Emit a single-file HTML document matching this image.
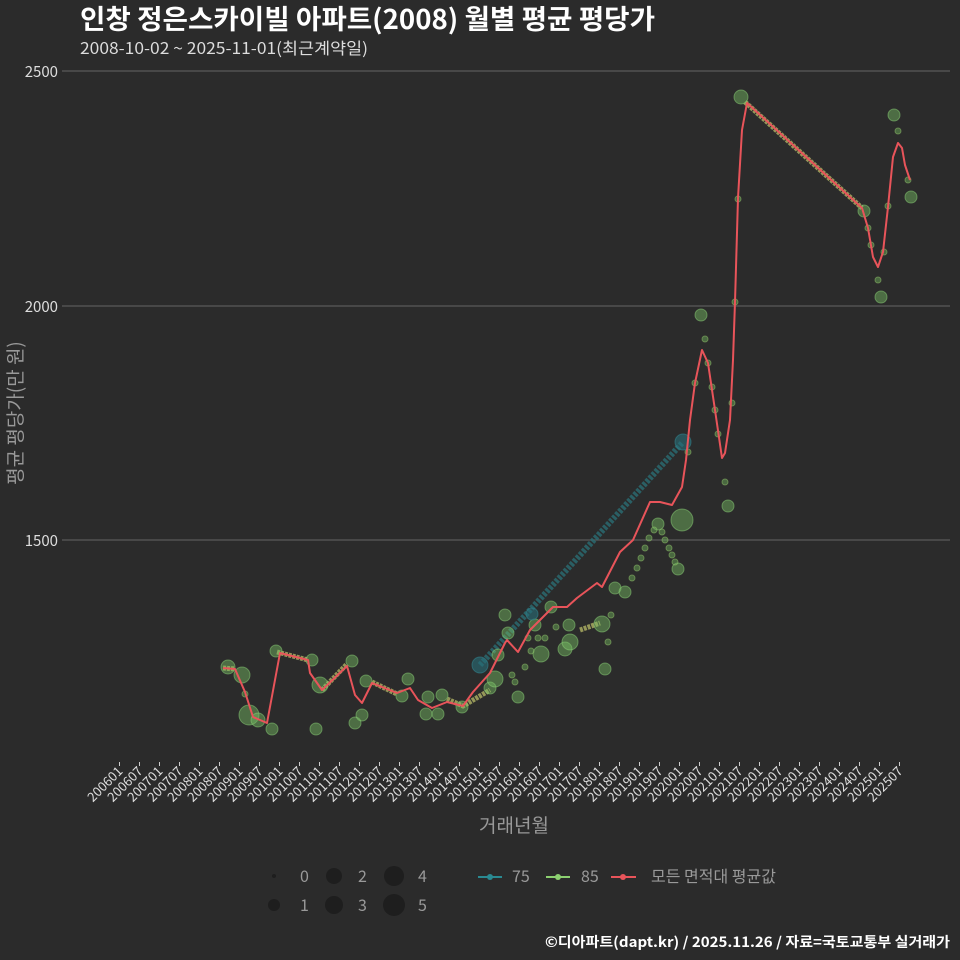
<!DOCTYPE html>
<html><head><meta charset="utf-8"><style>
body{margin:0;background:#2b2b2b;}
svg{display:block;font-family:"Noto Sans CJK KR","Liberation Sans",sans-serif;}
</style></head><body>
<svg width="960" height="960" viewBox="0 0 960 960">
<rect width="960" height="960" fill="#2b2b2b"/>
<text x="80" y="29" fill="#fff" font-size="27" font-weight="bold" textLength="575" lengthAdjust="spacingAndGlyphs">인창 정은스카이빌 아파트(2008) 월별 평균 평당가</text>
<text x="80" y="54" fill="#ddd" font-size="16" textLength="288" lengthAdjust="spacingAndGlyphs">2008-10-02 ~ 2025-11-01(최근계약일)</text>
<g stroke="#5a5a5a" stroke-width="1.2">
<line x1="62" y1="71" x2="950" y2="71"/><line x1="62" y1="306" x2="950" y2="306"/><line x1="62" y1="540" x2="950" y2="540"/>
</g>
<g fill="#ddd" font-size="15" text-anchor="end">
<text x="58" y="77">2500</text><text x="58" y="312">2000</text><text x="58" y="546">1500</text>
</g>
<text transform="translate(22,413) rotate(-90)" fill="#999" font-size="19" text-anchor="middle">평균 평당가(만 원)</text>
<g id="ticks" stroke="#ccc" stroke-width="1"></g>
<g id="xl" fill="#ddd" font-size="13" text-anchor="end"></g>
<text x="514" y="832" fill="#999" font-size="19" text-anchor="middle">거래년월</text>

<line x1="480" y1="665" x2="683" y2="442" stroke="#2a6c73" stroke-width="6" stroke-dasharray="3 1.5" opacity="0.8"/>
<g stroke="#a8aa60" stroke-width="5" stroke-dasharray="3 1" fill="none" opacity="0.85">
<polyline points="223,668 235,669"/>
<polyline points="277,652 308,660"/>
<polyline points="322,690 347,664"/>
<polyline points="372,682 397,694"/>
<polyline points="447,699 463,706 490,690"/>
<polyline points="580,630 600,623"/>
<polyline points="745,102 862,208"/>
</g>
<g fill="rgba(120,190,100,0.45)" stroke="rgba(140,210,120,0.5)" stroke-width="1">
<circle cx="228" cy="667" r="7"/><circle cx="242" cy="675" r="8"/><circle cx="249" cy="715" r="10"/><circle cx="258" cy="720" r="7"/><circle cx="272" cy="729" r="6"/><circle cx="276" cy="651" r="6"/><circle cx="312" cy="660" r="6"/><circle cx="320" cy="685" r="8"/><circle cx="316" cy="729" r="6"/><circle cx="352" cy="661" r="6"/><circle cx="355" cy="723" r="6"/><circle cx="362" cy="715" r="6"/><circle cx="366" cy="681" r="6"/><circle cx="402" cy="696" r="6"/><circle cx="408" cy="679" r="6"/><circle cx="426" cy="714" r="6"/><circle cx="428" cy="697" r="6"/><circle cx="438" cy="714" r="6"/><circle cx="442" cy="695" r="6"/><circle cx="462" cy="707" r="6"/><circle cx="490" cy="688" r="6"/><circle cx="495" cy="679" r="8"/><circle cx="498" cy="655" r="6"/><circle cx="505" cy="615" r="6"/><circle cx="508" cy="633" r="6"/><circle cx="518" cy="697" r="6"/><circle cx="535" cy="625" r="6"/><circle cx="541" cy="654" r="8"/><circle cx="551" cy="607" r="6"/><circle cx="565" cy="649" r="7"/><circle cx="570" cy="642" r="8"/><circle cx="569" cy="625" r="6"/><circle cx="602" cy="624" r="8"/><circle cx="605" cy="669" r="6"/><circle cx="615" cy="588" r="6"/><circle cx="625" cy="592" r="6"/><circle cx="658" cy="524" r="6"/><circle cx="682" cy="520" r="11"/><circle cx="678" cy="569" r="6"/><circle cx="701" cy="315" r="6"/><circle cx="728" cy="506" r="6"/><circle cx="741" cy="97" r="7"/><circle cx="864" cy="211" r="6"/><circle cx="881" cy="297" r="6"/><circle cx="894" cy="115" r="6"/><circle cx="911" cy="197" r="6"/>
</g>
<g fill="rgba(110,180,90,0.45)" stroke="rgba(150,200,110,0.5)" stroke-width="1">
<circle cx="632" cy="578" r="3"/><circle cx="637" cy="568" r="3"/><circle cx="641" cy="558" r="3"/><circle cx="645" cy="548" r="3"/><circle cx="649" cy="538" r="3"/><circle cx="654" cy="530" r="3"/><circle cx="662" cy="532" r="3"/><circle cx="665" cy="540" r="3"/><circle cx="669" cy="548" r="3"/><circle cx="672" cy="555" r="3"/><circle cx="675" cy="562" r="3"/>
<circle cx="512" cy="675" r="3"/><circle cx="515" cy="682" r="3"/><circle cx="525" cy="667" r="3"/><circle cx="528" cy="638" r="3"/><circle cx="531" cy="651" r="3"/><circle cx="538" cy="638" r="3"/><circle cx="545" cy="638" r="3"/><circle cx="556" cy="627" r="3"/><circle cx="611" cy="615" r="3"/><circle cx="608" cy="642" r="3"/>
<circle cx="688" cy="452" r="3"/><circle cx="695" cy="383" r="3"/><circle cx="705" cy="339" r="3"/><circle cx="708" cy="363" r="3"/><circle cx="712" cy="387" r="3"/><circle cx="715" cy="410" r="3"/><circle cx="718" cy="434" r="3"/><circle cx="725" cy="482" r="3"/><circle cx="732" cy="403" r="3"/><circle cx="735" cy="302" r="3"/><circle cx="738" cy="199" r="3"/><circle cx="868" cy="228" r="3"/><circle cx="871" cy="245" r="3"/><circle cx="878" cy="280" r="3"/><circle cx="884" cy="252" r="3"/><circle cx="888" cy="206" r="3"/><circle cx="898" cy="131" r="3"/><circle cx="908" cy="180" r="3"/><circle cx="245" cy="694" r="3"/>
</g>
<g fill="rgba(40,110,120,0.6)" stroke="rgba(50,130,140,0.6)">
<circle cx="480" cy="665" r="8"/><circle cx="532" cy="614" r="6"/><circle cx="683" cy="442" r="8"/>
</g>
<polyline fill="none" stroke="#e8545a" stroke-width="2" stroke-linejoin="round" points="223,668 235,669 245,692 253,717 267,723 280,653 308,660 310,673 322,690 347,666 355,695 362,703 372,683 397,693 410,688 418,700 432,708 447,702 463,706 473,692 490,673 505,643 507,640 518,652 530,630 553,607 567,607 577,598 597,583 602,587 620,552 633,540 650,502 660,502 672,505 682,487 686,460 690,420 695,383 702,350 708,363 715,410 722,458 725,453 730,420 733,360 735,302 738,198 742,130 747,103 862,208 868,228 873,257 878,267 883,252 888,207 893,157 898,143 902,148 905,165 910,180"/>

<g fill="#1e1e1e">
<circle cx="274" cy="876" r="2"/><circle cx="274" cy="905" r="6"/><circle cx="334" cy="876" r="8"/><circle cx="334" cy="905" r="9"/><circle cx="394" cy="876" r="10"/><circle cx="394" cy="905" r="11"/>
</g>
<g fill="#999" font-size="16">
<text x="300" y="882">0</text><text x="300" y="911">1</text><text x="358" y="882">2</text><text x="358" y="911">3</text><text x="418" y="882">4</text><text x="418" y="911">5</text>
<text x="512" y="882">75</text><text x="581" y="882">85</text><text x="651" y="882">모든 면적대 평균값</text>
</g>
<line x1="478" y1="877" x2="502" y2="877" stroke="#2a8a92" stroke-width="2"/><circle cx="490" cy="877" r="3" fill="#2a8a92"/>
<line x1="546" y1="877" x2="570" y2="877" stroke="#8cd070" stroke-width="2"/><circle cx="558" cy="877" r="3" fill="#8cd070"/>
<line x1="611" y1="877" x2="636" y2="877" stroke="#e8545a" stroke-width="2"/><circle cx="623" cy="877" r="3" fill="#e8545a"/>
<text x="950" y="947" fill="#fff" font-size="14" font-weight="bold" text-anchor="end" textLength="405" lengthAdjust="spacingAndGlyphs">©디아파트(dapt.kr) / 2025.11.26 / 자료=국토교통부 실거래가</text>
<script>
var t=document.getElementById('ticks'),l=document.getElementById('xl'),ns='http://www.w3.org/2000/svg';
for(var i=0;i<40;i++){var x=119.5+i*20;var y=2006+Math.floor(i/2);var s=y+(i%2?'07':'01');
var ln=document.createElementNS(ns,'line');ln.setAttribute('x1',x);ln.setAttribute('x2',x);ln.setAttribute('y1',762);ln.setAttribute('y2',766);t.appendChild(ln);
var tx=document.createElementNS(ns,'text');tx.setAttribute('transform','translate('+(x+4)+',772) rotate(-45)');tx.textContent=s;l.appendChild(tx);}
</script>
</svg>
</body></html>
